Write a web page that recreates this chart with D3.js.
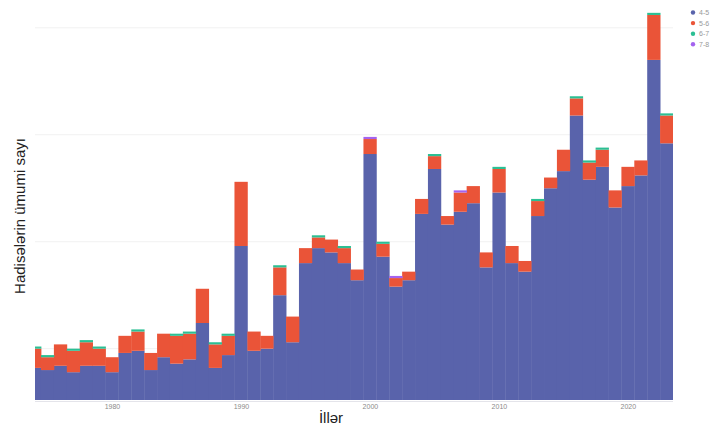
<!DOCTYPE html>
<html>
<head>
<meta charset="utf-8">
<script src="https://cdn.jsdelivr.net/npm/d3@7"></script>
<style>
  html, body { margin: 0; padding: 0; background: #ffffff; }
  svg { display: block; }
</style>
</head>
<body>
<div id="chart"></div>
<script>
// ---------- data ----------
const years = [1974,1975,1976,1977,1978,1979,1980,1981,1982,1983,1984,1985,1986,1987,1988,1989,
  1990,1991,1992,1993,1994,1995,1996,1997,1998,1999,2000,2001,2002,2003,2004,2005,2006,2007,2008,2009,
  2010,2011,2012,2013,2014,2015,2016,2017,2018,2019,2020,2021,2022,2023];
const mag45 = [15,14,16,13,16,16,13,22,23,14,20,17,19,36,15,21,
  72,23,24,49,27,64,71,69,64,56,115,67,53,56,87,108,82,88,92,62,
  97,64,60,86,99,107,133,103,109,90,100,105,159,120];
const mag56 = [9,6,10,10,11,8,7,8,9,8,11,13,12,16,11,9,
  30,9,6,13,12,7,5,6,7,5,7,6,4,4,7,6,4,9,8,7,
  11,8,5,7,5,10,8,8,8,8,9,7,21,13];
const mag67 = [1,1,0,1,1,1,0,0,1,0,0,1,1,0,1,1,
  0,0,0,1,0,0,1,0,1,0,0,1,0,0,0,1,0,0,0,0,
  1,0,0,1,0,0,1,1,1,0,0,0,1,1];
const mag78 = [0,0,0,0,0,0,0,0,0,0,0,0,0,0,0,0,
  0,0,0,0,0,0,0,0,0,0,1,0,1,0,0,0,0,1,0,0,
  0,0,0,0,0,0,0,0,0,0,0,0,0,0];
const seriesNames = ["4-5","5-6","6-7","7-8"];
const seriesColors = ["#5963ab","#ea5438","#2bbf93","#a463ef"];
const xTickValues = [1980,1990,2000,2010,2020];
const xTickLabels = ["1980","1990","2000","2010","2020"];
const yGridValues = [24,74,124,174];
const xTitle = "İllər";
const yTitle = "Hadisələrin ümumi sayı";

// ---------- layout ----------
const W = 725, H = 427;
const plot = { left: 35, right: 673, top: 0, bottom: 400 };

const svg = d3.select("#chart").append("svg")
  .attr("width", W).attr("height", H);

const x = d3.scaleLinear().domain([1974.035, 2023.5]).range([plot.left, plot.right]);
const y = d3.scaleLinear().domain([0, 187]).range([plot.bottom, plot.top]);

// gridlines
svg.append("g").selectAll("line").data(yGridValues).join("line")
  .attr("x1", plot.left).attr("x2", plot.right)
  .attr("y1", d => y(d)).attr("y2", d => y(d))
  .attr("stroke", "#f1f1f1").attr("stroke-width", 1);

// clip
svg.append("defs").append("clipPath").attr("id", "plotclip")
  .append("rect").attr("x", plot.left).attr("y", plot.top)
  .attr("width", plot.right - plot.left).attr("height", plot.bottom - plot.top + 1);

// stacked data
const table = years.map((yr, i) => ({
  year: yr, "4-5": mag45[i], "5-6": mag56[i], "6-7": mag67[i], "7-8": mag78[i]
}));
const stacked = d3.stack().keys(seriesNames)(table);

const barsG = svg.append("g").attr("clip-path", "url(#plotclip)");
stacked.forEach((layer, si) => {
  barsG.append("g").attr("fill", seriesColors[si])
    .selectAll("rect").data(layer.filter(d => d[1] - d[0] > 0)).join("rect")
    .attr("x", d => x(d.data.year - 0.5))
    .attr("width", d => x(d.data.year + 0.5) - x(d.data.year - 0.5) + 0.4)
    .attr("y", d => y(d[1]))
    .attr("height", d => y(d[0]) - y(d[1]));
});

// bottom axis line
svg.append("line")
  .attr("x1", plot.left).attr("x2", plot.right)
  .attr("y1", plot.bottom + 1.5).attr("y2", plot.bottom + 1.5)
  .attr("stroke", "#e4e4ea").attr("stroke-width", 1);

// x tick labels
const xAxis = d3.axisBottom(x).tickValues(xTickValues)
  .tickFormat((d, i) => xTickLabels[i]).tickSize(0).tickPadding(0);
const xg = svg.append("g").attr("transform", `translate(0, ${plot.bottom + 4})`).call(xAxis);
xg.select(".domain").remove();
xg.selectAll("text")
  .attr("font-family", "Liberation Sans, Arial, sans-serif")
  .attr("font-size", 7).attr("fill", "#8a8a8a");

// axis titles
svg.append("text")
  .attr("x", 331).attr("y", 423)
  .attr("text-anchor", "middle")
  .attr("font-family", "Liberation Sans, Arial, sans-serif")
  .attr("font-size", 15).attr("fill", "#222")
  .text(xTitle);

svg.append("text")
  .attr("transform", "translate(25, 216) rotate(-90)")
  .attr("text-anchor", "middle")
  .attr("font-family", "Liberation Sans, Arial, sans-serif")
  .attr("font-size", 15).attr("fill", "#222")
  .text(yTitle);

// legend
const lg = svg.append("g").attr("transform", "translate(693, 12.5)");
seriesNames.forEach((name, i) => {
  const g = lg.append("g").attr("transform", `translate(0, ${i * 10.6})`);
  g.append("circle").attr("r", 2.2).attr("fill", seriesColors[i]);
  g.append("text").attr("x", 6).attr("y", 2.4)
    .attr("font-family", "Liberation Sans, Arial, sans-serif")
    .attr("font-size", 7).attr("fill", "#999")
    .text(name);
});
</script>
</body>
</html>
